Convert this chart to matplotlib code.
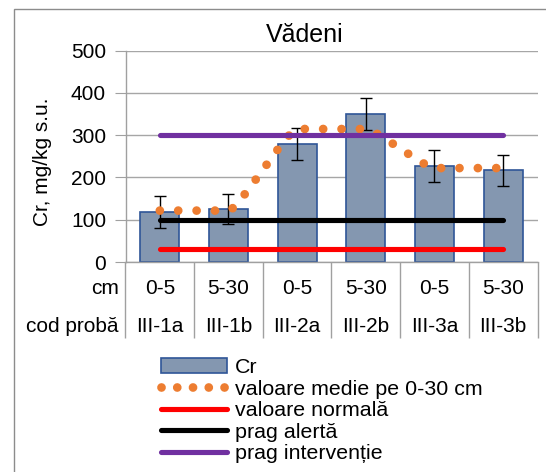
import numpy as np
import matplotlib
matplotlib.use("Agg")
import matplotlib.pyplot as plt
from matplotlib.patches import Rectangle, Patch
from matplotlib.lines import Line2D

plt.rcParams['font.family'] = ['Liberation Sans', 'DejaVu Sans']

# data
depth_cm = ['0-5', '5-30', '0-5', '5-30', '0-5', '5-30']
sample_code = ['III-1a', 'III-1b', 'III-2a', 'III-2b', 'III-3a', 'III-3b']
cr_values = [118, 125, 279, 350, 227, 217]
cr_errors = [37, 36, 37, 37, 37, 37]
mean_0_30 = [121.5, 121.5, 314.5, 314.5, 222, 222]
normal_value = [30, 30, 30, 30, 30, 30]
alert_threshold = [100, 100, 100, 100, 100, 100]
intervention_threshold = [300, 300, 300, 300, 300, 300]

W, H = 546, 472
fig = plt.figure(figsize=(W / 100, H / 100), dpi=100)
ax = fig.add_axes([125.5 / W, 1 - 262 / H, 412 / W, 211.5 / H])

x = np.arange(len(cr_values))


def smooth_curve(xs, ys, tension=0.07, steps=40):
    # smoothed line as bezier segments, flat tangent where a neighbour is level
    pts = np.column_stack([xs, ys]).astype(float)
    n = len(pts)
    tang = []
    for i in range(n):
        p0 = pts[max(i - 1, 0)]
        p2 = pts[min(i + 1, n - 1)]
        d = (p2 - p0) * tension
        if (p2[1] - pts[i][1]) * (pts[i][1] - p0[1]) <= 0:
            d[1] = 0
        tang.append(d)
    out = []
    t = np.linspace(0, 1, steps)[:, None]
    for i in range(n - 1):
        p1, p2 = pts[i], pts[i + 1]
        b1 = p1 + tang[i]
        b2 = p2 - tang[i + 1]
        seg = ((1 - t) ** 3) * p1 + 3 * ((1 - t) ** 2) * t * b1 + 3 * (1 - t) * t ** 2 * b2 + t ** 3 * p2
        out.append(seg if i == 0 else seg[1:])
    seg = np.vstack(out)
    return seg[:, 0], seg[:, 1]


ax.bar(x, cr_values, width=0.57, color='#8497B0', edgecolor='#2F5597', linewidth=1.2,
       yerr=cr_errors, error_kw=dict(ecolor='black', elinewidth=1, capsize=4, capthick=1),
       zorder=2)

sx, sy = smooth_curve(x, mean_0_30)
ax.plot(sx, sy, color='#ED7D31', lw=6.3, linestyle=(0, (0.001, 2.1)),
        dash_capstyle='round', zorder=3)
ax.plot(x, normal_value, color='#FF0000', lw=3.7, solid_capstyle='round', zorder=4)
ax.plot(x, alert_threshold, color='black', lw=3.7, solid_capstyle='round', zorder=4)
ax.plot(x, intervention_threshold, color='#7030A0', lw=3.7, solid_capstyle='round', zorder=4)

ax.set_xlim(-0.5, len(x) - 0.5)
ax.set_ylim(0, 500)
ax.set_yticks(range(0, 501, 100))
ax.set_xticks([])
ax.tick_params(axis='y', labelsize=15, length=8, color='#A0A0A0', pad=6)
ax.yaxis.grid(True, color='#A6A6A6', lw=1)
ax.set_axisbelow(True)
for s in ['top', 'right']:
    ax.spines[s].set_visible(False)
for s in ['left', 'bottom']:
    ax.spines[s].set_color('#A0A0A0')
    ax.spines[s].set_linewidth(1)

# category table under the axis
tr = ax.get_xaxis_transform()
ax.vlines(np.arange(-0.5, len(x)), -76 / 211.5, 0, transform=tr, colors='#A0A0A0',
          lw=1, clip_on=False)
for i in range(len(x)):
    ax.text(x[i], -27 / 211.5, depth_cm[i], transform=tr, ha='center', va='center', fontsize=15)
    ax.text(x[i], -65 / 211.5, sample_code[i], transform=tr, ha='center', va='center', fontsize=15)
ax.text(-6.5 / 412, -27 / 211.5, 'cm', transform=ax.transAxes, ha='right', va='center', fontsize=15)
ax.text(-6.5 / 412, -65 / 211.5, 'cod probă', transform=ax.transAxes, ha='right', va='center', fontsize=15)

fig.text(305 / W, 1 - 42 / H, 'Vădeni', ha='center', va='baseline', fontsize=18)
fig.text(43 / W, 1 - 162 / H, 'Cr, mg/kg s.u.', rotation=90, ha='center', va='center', fontsize=15)

handles = [
    Patch(facecolor='#8497B0', edgecolor='#2F5597', linewidth=1.2),
    Line2D([], [], color='#ED7D31', lw=6.3, linestyle=(0, (0.001, 1.8)), dash_capstyle='round'),
    Line2D([], [], color='#FF0000', lw=3.7, solid_capstyle='round'),
    Line2D([], [], color='black', lw=3.7, solid_capstyle='round'),
    Line2D([], [], color='#7030A0', lw=3.7, solid_capstyle='round'),
]
labels = ['Cr', 'valoare medie pe 0-30 cm', 'valoare normală', 'prag alertă', 'prag intervenție']
fig.legend(handles, labels, loc='upper left', bbox_to_anchor=(161 / W, 1 - 358 / H),
           frameon=False, fontsize=15.4, handlelength=3.1, handleheight=0.7,
           handletextpad=0.36, labelspacing=0.12, borderpad=0, borderaxespad=0)

# outer chart border (runs off the right and bottom of the picture)
fig.patches.append(Rectangle((13.7 / W, -0.1), 2, 1.1 - 9.3 / H, transform=fig.transFigure,
                             fill=False, edgecolor='#8C8C8C', lw=1))

fig.savefig('out.png', dpi=100)
